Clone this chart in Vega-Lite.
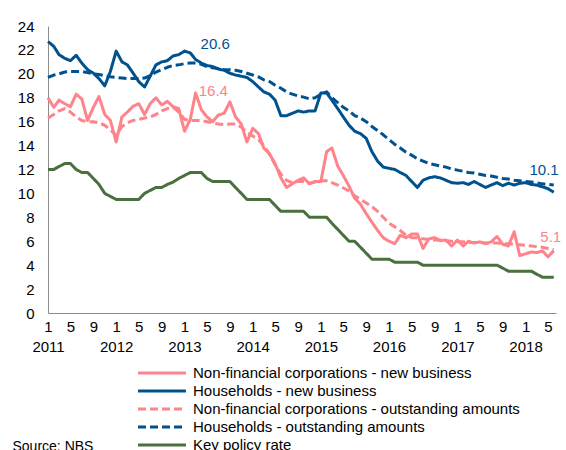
{
  "$schema": "https://vega.github.io/schema/vega-lite/v6.json",
  "width": 508,
  "height": 287,
  "autosize": {"type": "none"},
  "padding": {"left": 48, "top": 26, "right": 10, "bottom": 137},
  "background": "white",
  "config": {"view": {"stroke": null}, "font": "Liberation Sans", "axis": {"labelOverlap": false, "ticks": false, "grid": false}},
  "encoding": {
    "x": {
      "field": "date", "type": "temporal",
      "scale": {"type": "utc", "domain": [{"year": 2011, "month": 1, "date": 1, "utc": true}, {"year": 2018, "month": 6, "date": 13, "utc": true}]},
      "axis": {
        "title": "Source: NBS", "titleX": -36, "titleY": 126, "titleAlign": "left", "titleAnchor": null, "titleBaseline": "top",
        "titleFontSize": 14, "titleFontWeight": "normal", "titleColor": "#000000",
        "ticks": false, "grid": false, "domainColor": "#8c8c8c", "domainWidth": 1,
        "labelFontSize": 15, "labelColor": "#000000", "labelPadding": 6, "labelLineHeight": 20,
        "labelFlush": false, "labelOverlap": false, "labelBound": false, "labelAlign": "center",
        "values": [
          {"year": 2011, "month": 1, "date": 1, "utc": true}, {"year": 2011, "month": 5, "date": 1, "utc": true}, {"year": 2011, "month": 9, "date": 1, "utc": true},
          {"year": 2012, "month": 1, "date": 1, "utc": true}, {"year": 2012, "month": 5, "date": 1, "utc": true}, {"year": 2012, "month": 9, "date": 1, "utc": true},
          {"year": 2013, "month": 1, "date": 1, "utc": true}, {"year": 2013, "month": 5, "date": 1, "utc": true}, {"year": 2013, "month": 9, "date": 1, "utc": true},
          {"year": 2014, "month": 1, "date": 1, "utc": true}, {"year": 2014, "month": 5, "date": 1, "utc": true}, {"year": 2014, "month": 9, "date": 1, "utc": true},
          {"year": 2015, "month": 1, "date": 1, "utc": true}, {"year": 2015, "month": 5, "date": 1, "utc": true}, {"year": 2015, "month": 9, "date": 1, "utc": true},
          {"year": 2016, "month": 1, "date": 1, "utc": true}, {"year": 2016, "month": 5, "date": 1, "utc": true}, {"year": 2016, "month": 9, "date": 1, "utc": true},
          {"year": 2017, "month": 1, "date": 1, "utc": true}, {"year": 2017, "month": 5, "date": 1, "utc": true}, {"year": 2017, "month": 9, "date": 1, "utc": true},
          {"year": 2018, "month": 1, "date": 1, "utc": true}, {"year": 2018, "month": 5, "date": 1, "utc": true}
        ],
        "labelExpr": "utcmonth(datum.value) == 0 ? [utcFormat(datum.value, '%-m'), utcFormat(datum.value, '%Y')] : [utcFormat(datum.value, '%-m'), '']"
      }
    },
    "y": {
      "field": "value", "type": "quantitative",
      "scale": {"domain": [0, 24], "nice": false, "zero": true},
      "axis": {"title": null, "ticks": false, "grid": false, "domainColor": "#8c8c8c", "domainWidth": 1, "labelFontSize": 15, "labelColor": "#000000", "labelPadding": 14, "labelOverlap": false, "labelBound": false, "labelFlush": false, "values": [0, 2, 4, 6, 8, 10, 12, 14, 16, 18, 20, 22, 24]}
    }
  },
  "layer": [
    {
      "data": {"values": [
        {"date":"2011-01-01","nfc_new":18.0,"hh_new":22.7,"nfc_out":16.3,"hh_out":19.7,"policy":12.0},
        {"date":"2011-02-01","nfc_new":17.2,"hh_new":22.3,"nfc_out":16.6,"hh_out":19.9,"policy":12.0},
        {"date":"2011-03-01","nfc_new":17.8,"hh_new":21.6,"nfc_out":16.9,"hh_out":20.0,"policy":12.25},
        {"date":"2011-04-01","nfc_new":17.5,"hh_new":21.3,"nfc_out":17.1,"hh_out":20.15,"policy":12.5},
        {"date":"2011-05-01","nfc_new":17.25,"hh_new":21.1,"nfc_out":16.8,"hh_out":20.2,"policy":12.5},
        {"date":"2011-06-01","nfc_new":18.3,"hh_new":21.55,"nfc_out":16.4,"hh_out":20.2,"policy":12.0},
        {"date":"2011-07-01","nfc_new":17.9,"hh_new":20.9,"nfc_out":16.1,"hh_out":20.2,"policy":11.75},
        {"date":"2011-08-01","nfc_new":16.1,"hh_new":20.35,"nfc_out":16.0,"hh_out":20.1,"policy":11.75},
        {"date":"2011-09-01","nfc_new":17.2,"hh_new":20.05,"nfc_out":16.0,"hh_out":20.0,"policy":11.25},
        {"date":"2011-10-01","nfc_new":18.1,"hh_new":19.6,"nfc_out":15.9,"hh_out":19.95,"policy":10.75},
        {"date":"2011-11-01","nfc_new":16.6,"hh_new":19.0,"nfc_out":15.7,"hh_out":19.85,"policy":10.0},
        {"date":"2011-12-01","nfc_new":16.1,"hh_new":20.2,"nfc_out":15.3,"hh_out":19.75,"policy":9.75},
        {"date":"2012-01-01","nfc_new":14.3,"hh_new":21.9,"nfc_out":14.9,"hh_out":19.7,"policy":9.5},
        {"date":"2012-02-01","nfc_new":16.4,"hh_new":21.0,"nfc_out":15.6,"hh_out":19.65,"policy":9.5},
        {"date":"2012-03-01","nfc_new":16.8,"hh_new":20.75,"nfc_out":15.9,"hh_out":19.6,"policy":9.5},
        {"date":"2012-04-01","nfc_new":17.3,"hh_new":20.05,"nfc_out":16.1,"hh_out":19.6,"policy":9.5},
        {"date":"2012-05-01","nfc_new":17.5,"hh_new":19.35,"nfc_out":16.2,"hh_out":19.6,"policy":9.5},
        {"date":"2012-06-01","nfc_new":16.6,"hh_new":18.9,"nfc_out":16.3,"hh_out":19.65,"policy":10.0},
        {"date":"2012-07-01","nfc_new":17.5,"hh_new":19.8,"nfc_out":16.4,"hh_out":19.85,"policy":10.25},
        {"date":"2012-08-01","nfc_new":18.0,"hh_new":20.75,"nfc_out":16.6,"hh_out":20.15,"policy":10.5},
        {"date":"2012-09-01","nfc_new":17.4,"hh_new":21.0,"nfc_out":16.9,"hh_out":20.35,"policy":10.5},
        {"date":"2012-10-01","nfc_new":17.7,"hh_new":21.1,"nfc_out":17.1,"hh_out":20.55,"policy":10.75},
        {"date":"2012-11-01","nfc_new":17.25,"hh_new":21.5,"nfc_out":17.2,"hh_out":20.7,"policy":10.95},
        {"date":"2012-12-01","nfc_new":17.1,"hh_new":21.6,"nfc_out":16.8,"hh_out":20.75,"policy":11.25},
        {"date":"2013-01-01","nfc_new":15.2,"hh_new":21.9,"nfc_out":16.2,"hh_out":20.85,"policy":11.5},
        {"date":"2013-02-01","nfc_new":16.2,"hh_new":21.75,"nfc_out":16.1,"hh_out":20.9,"policy":11.75},
        {"date":"2013-03-01","nfc_new":18.4,"hh_new":21.2,"nfc_out":16.1,"hh_out":20.9,"policy":11.75},
        {"date":"2013-04-01","nfc_new":17.0,"hh_new":20.9,"nfc_out":16.1,"hh_out":20.8,"policy":11.75},
        {"date":"2013-05-01","nfc_new":16.4,"hh_new":20.7,"nfc_out":16.0,"hh_out":20.6,"policy":11.25},
        {"date":"2013-06-01","nfc_new":16.0,"hh_new":20.6,"nfc_out":15.9,"hh_out":20.5,"policy":11.0},
        {"date":"2013-07-01","nfc_new":16.55,"hh_new":20.4,"nfc_out":15.8,"hh_out":20.45,"policy":11.0},
        {"date":"2013-08-01","nfc_new":16.7,"hh_new":20.3,"nfc_out":15.75,"hh_out":20.35,"policy":11.0},
        {"date":"2013-09-01","nfc_new":17.65,"hh_new":20.05,"nfc_out":15.8,"hh_out":20.35,"policy":11.0},
        {"date":"2013-10-01","nfc_new":16.4,"hh_new":19.9,"nfc_out":15.8,"hh_out":20.3,"policy":10.5},
        {"date":"2013-11-01","nfc_new":15.8,"hh_new":19.8,"nfc_out":15.55,"hh_out":20.2,"policy":10.0},
        {"date":"2013-12-01","nfc_new":14.3,"hh_new":19.7,"nfc_out":15.1,"hh_out":20.05,"policy":9.5},
        {"date":"2014-01-01","nfc_new":15.45,"hh_new":19.35,"nfc_out":14.8,"hh_out":19.9,"policy":9.5},
        {"date":"2014-02-01","nfc_new":15.0,"hh_new":18.9,"nfc_out":14.5,"hh_out":19.75,"policy":9.5},
        {"date":"2014-03-01","nfc_new":13.8,"hh_new":18.5,"nfc_out":14.0,"hh_out":19.5,"policy":9.5},
        {"date":"2014-04-01","nfc_new":13.3,"hh_new":18.3,"nfc_out":13.3,"hh_out":19.35,"policy":9.5},
        {"date":"2014-05-01","nfc_new":12.5,"hh_new":17.8,"nfc_out":12.4,"hh_out":19.05,"policy":9.0},
        {"date":"2014-06-01","nfc_new":11.3,"hh_new":16.5,"nfc_out":11.6,"hh_out":18.8,"policy":8.5},
        {"date":"2014-07-01","nfc_new":10.5,"hh_new":16.5,"nfc_out":11.1,"hh_out":18.5,"policy":8.5},
        {"date":"2014-08-01","nfc_new":10.8,"hh_new":16.7,"nfc_out":10.9,"hh_out":18.3,"policy":8.5},
        {"date":"2014-09-01","nfc_new":11.1,"hh_new":16.9,"nfc_out":11.0,"hh_out":18.15,"policy":8.5},
        {"date":"2014-10-01","nfc_new":11.3,"hh_new":16.8,"nfc_out":11.0,"hh_out":18.05,"policy":8.5},
        {"date":"2014-11-01","nfc_new":10.8,"hh_new":16.9,"nfc_out":10.85,"hh_out":17.9,"policy":8.0},
        {"date":"2014-12-01","nfc_new":11.0,"hh_new":16.9,"nfc_out":10.95,"hh_out":18.0,"policy":8.0},
        {"date":"2015-01-01","nfc_new":11.0,"hh_new":18.4,"nfc_out":11.05,"hh_out":18.3,"policy":8.0},
        {"date":"2015-02-01","nfc_new":13.5,"hh_new":18.4,"nfc_out":11.05,"hh_out":18.5,"policy":8.0},
        {"date":"2015-03-01","nfc_new":13.8,"hh_new":17.8,"nfc_out":10.9,"hh_out":18.0,"policy":7.5},
        {"date":"2015-04-01","nfc_new":12.3,"hh_new":17.1,"nfc_out":10.7,"hh_out":17.6,"policy":7.0},
        {"date":"2015-05-01","nfc_new":11.5,"hh_new":16.4,"nfc_out":10.45,"hh_out":17.2,"policy":6.5},
        {"date":"2015-06-01","nfc_new":10.6,"hh_new":15.7,"nfc_out":10.2,"hh_out":16.9,"policy":6.0},
        {"date":"2015-07-01","nfc_new":9.6,"hh_new":15.2,"nfc_out":9.8,"hh_out":16.5,"policy":6.0},
        {"date":"2015-08-01","nfc_new":9.1,"hh_new":15.0,"nfc_out":9.5,"hh_out":16.3,"policy":5.5},
        {"date":"2015-09-01","nfc_new":8.3,"hh_new":14.6,"nfc_out":9.2,"hh_out":16.0,"policy":5.0},
        {"date":"2015-10-01","nfc_new":7.6,"hh_new":13.5,"nfc_out":8.9,"hh_out":15.6,"policy":4.5},
        {"date":"2015-11-01","nfc_new":6.9,"hh_new":12.7,"nfc_out":8.5,"hh_out":15.25,"policy":4.5},
        {"date":"2015-12-01","nfc_new":6.3,"hh_new":12.2,"nfc_out":8.0,"hh_out":14.9,"policy":4.5},
        {"date":"2016-01-01","nfc_new":6.0,"hh_new":12.1,"nfc_out":7.5,"hh_out":14.5,"policy":4.5},
        {"date":"2016-02-01","nfc_new":5.8,"hh_new":12.0,"nfc_out":7.2,"hh_out":14.1,"policy":4.25},
        {"date":"2016-03-01","nfc_new":6.5,"hh_new":11.75,"nfc_out":6.9,"hh_out":13.8,"policy":4.25},
        {"date":"2016-04-01","nfc_new":6.3,"hh_new":11.5,"nfc_out":6.5,"hh_out":13.45,"policy":4.25},
        {"date":"2016-05-01","nfc_new":6.6,"hh_new":11.0,"nfc_out":6.3,"hh_out":13.2,"policy":4.25},
        {"date":"2016-06-01","nfc_new":6.6,"hh_new":10.5,"nfc_out":6.3,"hh_out":12.9,"policy":4.25},
        {"date":"2016-07-01","nfc_new":5.4,"hh_new":11.1,"nfc_out":6.2,"hh_out":12.7,"policy":4.0},
        {"date":"2016-08-01","nfc_new":6.2,"hh_new":11.3,"nfc_out":6.15,"hh_out":12.5,"policy":4.0},
        {"date":"2016-09-01","nfc_new":6.3,"hh_new":11.4,"nfc_out":6.1,"hh_out":12.4,"policy":4.0},
        {"date":"2016-10-01","nfc_new":6.05,"hh_new":11.3,"nfc_out":6.1,"hh_out":12.3,"policy":4.0},
        {"date":"2016-11-01","nfc_new":6.1,"hh_new":11.1,"nfc_out":6.05,"hh_out":12.2,"policy":4.0},
        {"date":"2016-12-01","nfc_new":5.6,"hh_new":10.9,"nfc_out":6.0,"hh_out":12.05,"policy":4.0},
        {"date":"2017-01-01","nfc_new":6.1,"hh_new":10.85,"nfc_out":5.95,"hh_out":11.95,"policy":4.0},
        {"date":"2017-02-01","nfc_new":5.6,"hh_new":10.9,"nfc_out":5.95,"hh_out":11.85,"policy":4.0},
        {"date":"2017-03-01","nfc_new":6.0,"hh_new":10.75,"nfc_out":5.9,"hh_out":11.75,"policy":4.0},
        {"date":"2017-04-01","nfc_new":5.85,"hh_new":11.0,"nfc_out":5.9,"hh_out":11.7,"policy":4.0},
        {"date":"2017-05-01","nfc_new":5.95,"hh_new":10.75,"nfc_out":5.9,"hh_out":11.6,"policy":4.0},
        {"date":"2017-06-01","nfc_new":5.8,"hh_new":10.5,"nfc_out":5.85,"hh_out":11.5,"policy":4.0},
        {"date":"2017-07-01","nfc_new":5.95,"hh_new":10.7,"nfc_out":5.85,"hh_out":11.45,"policy":4.0},
        {"date":"2017-08-01","nfc_new":6.4,"hh_new":10.9,"nfc_out":5.85,"hh_out":11.35,"policy":4.0},
        {"date":"2017-09-01","nfc_new":5.75,"hh_new":10.65,"nfc_out":5.8,"hh_out":11.25,"policy":3.75},
        {"date":"2017-10-01","nfc_new":5.6,"hh_new":10.85,"nfc_out":5.8,"hh_out":11.2,"policy":3.5},
        {"date":"2017-11-01","nfc_new":6.8,"hh_new":10.7,"nfc_out":5.75,"hh_out":11.1,"policy":3.5},
        {"date":"2017-12-01","nfc_new":4.8,"hh_new":10.85,"nfc_out":5.7,"hh_out":11.05,"policy":3.5},
        {"date":"2018-01-01","nfc_new":4.95,"hh_new":10.9,"nfc_out":5.65,"hh_out":11.0,"policy":3.5},
        {"date":"2018-02-01","nfc_new":5.1,"hh_new":10.75,"nfc_out":5.6,"hh_out":10.95,"policy":3.5},
        {"date":"2018-03-01","nfc_new":5.05,"hh_new":10.7,"nfc_out":5.55,"hh_out":10.9,"policy":3.25},
        {"date":"2018-04-01","nfc_new":5.2,"hh_new":10.55,"nfc_out":5.5,"hh_out":10.8,"policy":3.0},
        {"date":"2018-05-01","nfc_new":4.7,"hh_new":10.4,"nfc_out":5.4,"hh_out":10.75,"policy":3.0},
        {"date":"2018-06-01","nfc_new":5.2,"hh_new":10.1,"nfc_out":5.3,"hh_out":10.7,"policy":3.0}
      ]},
      "transform": [{"fold": ["nfc_new", "hh_new", "nfc_out", "hh_out", "policy"], "as": ["series", "value"]}],
      "mark": {"type": "line", "strokeWidth": 3, "strokeJoin": "round"},
      "encoding": {
        "color": {
          "field": "series", "type": "nominal",
          "scale": {"domain": ["nfc_new", "hh_new", "nfc_out", "hh_out", "policy"], "range": ["#FF838A", "#00528F", "#FF838A", "#00528F", "#4A7040"]},
          "legend": {
            "orient": "none", "legendX": 104, "legendY": 337, "title": null, "direction": "vertical",
            "symbolType": "M-2.82,0H2.82", "symbolSize": 289, "symbolStrokeWidth": 3, "symbolFillColor": "transparent", "labelFontSize": 15, "labelColor": "#000000",
            "labelOffset": 21, "rowPadding": -1, "labelLimit": 400,
            "labelExpr": "datum.label == 'nfc_new' ? 'Non-financial corporations - new business' : datum.label == 'hh_new' ? 'Households - new business' : datum.label == 'nfc_out' ? 'Non-financial corporations - outstanding amounts' : datum.label == 'hh_out' ? 'Households - outstanding amounts' : 'Key policy rate'"
          }
        },
        "strokeDash": {
          "field": "series", "type": "nominal",
          "scale": {"domain": ["nfc_new", "hh_new", "nfc_out", "hh_out", "policy"], "range": [[1, 0], [1, 0], [8, 4], [8, 4], [1, 0]]},
          "legend": {
            "orient": "none", "legendX": 104, "legendY": 337, "title": null, "direction": "vertical",
            "symbolType": "M-2.82,0H2.82", "symbolSize": 289, "symbolStrokeWidth": 3, "symbolFillColor": "transparent", "labelFontSize": 15, "labelColor": "#000000",
            "labelOffset": 21, "rowPadding": -1, "labelLimit": 400,
            "labelExpr": "datum.label == 'nfc_new' ? 'Non-financial corporations - new business' : datum.label == 'hh_new' ? 'Households - new business' : datum.label == 'nfc_out' ? 'Non-financial corporations - outstanding amounts' : datum.label == 'hh_out' ? 'Households - outstanding amounts' : 'Key policy rate'"
          }
        }
      }
    },
    {
      "data": {"values": [
        {"label": "20.6", "series": "hh_new", "date": "2013-06-14", "value": 22.5},
        {"label": "16.4", "series": "nfc_new", "date": "2013-06-04", "value": 18.56},
        {"label": "10.1", "series": "hh_new", "date": "2018-04-10", "value": 11.96},
        {"label": "5.1", "series": "nfc_new", "date": "2018-05-16", "value": 6.35}
      ]},
      "mark": {"type": "text", "fontSize": 15, "align": "center", "baseline": "middle"},
      "encoding": {
        "text": {"field": "label"},
        "color": {"field": "series", "type": "nominal", "legend": null}
      }
    }
  ]
}
